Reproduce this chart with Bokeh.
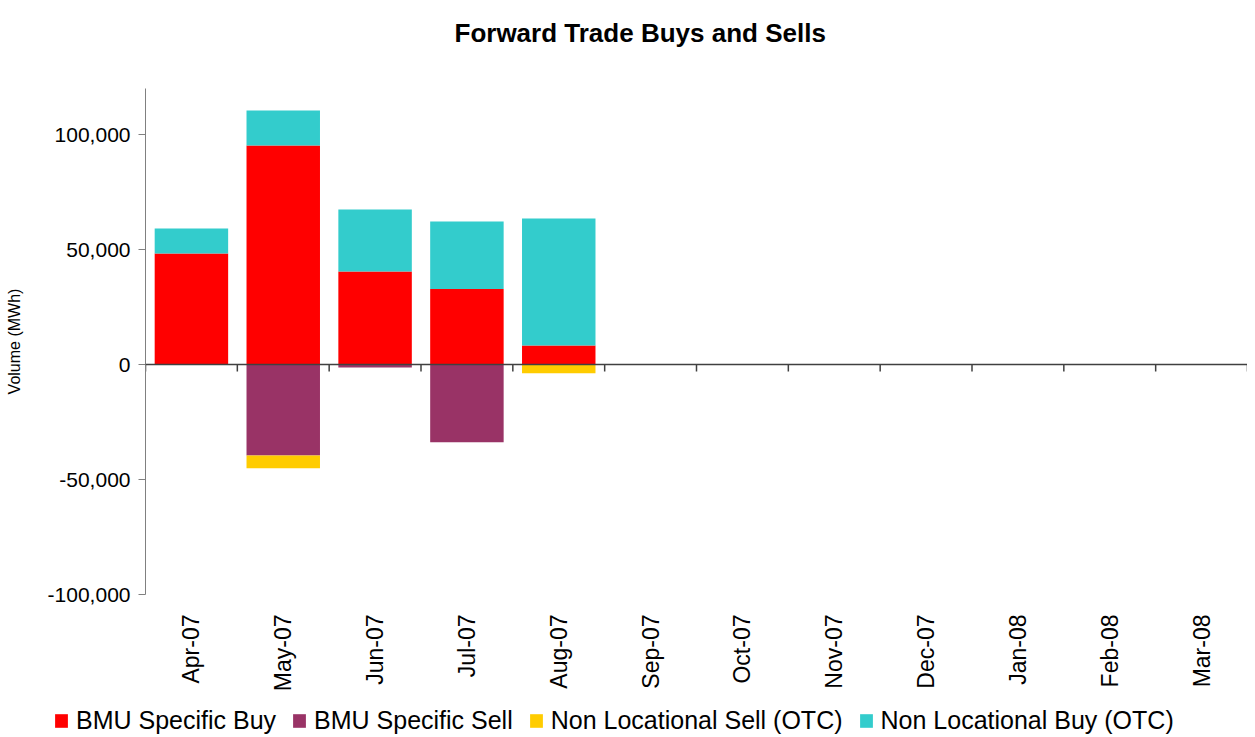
import numpy as np
from bokeh.plotting import figure
from bokeh.layouts import column
from bokeh.models import (Range1d, FixedTicker, NumeralTickFormatter,
                          Legend, LegendItem, ColumnDataSource, Title, Span)
from bokeh.embed import file_html
from bokeh.resources import INLINE

months = ["Apr-07", "May-07", "Jun-07", "Jul-07", "Aug-07", "Sep-07",
          "Oct-07", "Nov-07", "Dec-07", "Jan-08", "Feb-08", "Mar-08"]
bmu_buy = [48300, 95200, 40400, 32800, 8300, 0, 0, 0, 0, 0, 0, 0]
nl_buy = [10800, 15200, 27000, 29400, 55200, 0, 0, 0, 0, 0, 0, 0]
bmu_sell = [0, -39600, -1300, -33800, 0, 0, 0, 0, 0, 0, 0, 0]
nl_sell = [0, -5500, 0, 0, -3800, 0, 0, 0, 0, 0, 0, 0]
y_ticks = [-100000, -50000, 0, 50000, 100000]
series_labels = ["BMU Specific Buy", "BMU Specific Sell",
                 "Non Locational Sell (OTC)", "Non Locational Buy (OTC)"]

FONT = "Liberation Sans"
RED, PURPLE, YELLOW, TEAL = "#FF0000", "#993366", "#FFCC00", "#33CCCC"

xpos = list(np.arange(len(months)) + 0.5)
src = ColumnDataSource(dict(x=xpos, bmu_buy=bmu_buy, nl_buy=nl_buy,
                            bmu_sell=bmu_sell, nl_sell=nl_sell))

W = 1247
TOP, LEFT = 88, 145
FRAME_H = 506
H_MAIN = 704
H_LEG = 32
Y0, Y1 = -100000, 120000
p = figure(width=W, height=H_MAIN, output_backend="svg", toolbar_location=None,
           x_range=Range1d(0, len(months)), y_range=Range1d(Y0, Y1),
           min_border_left=LEFT, min_border_right=0, min_border_top=TOP,
           min_border_bottom=H_MAIN - TOP - FRAME_H)
p.outline_line_color = None
p.xgrid.visible = False
p.ygrid.visible = False

pos = p.vbar_stack(["bmu_buy", "nl_buy"], x="x", width=0.8, source=src,
                   color=[RED, TEAL], line_color=None)
neg = p.vbar_stack(["bmu_sell", "nl_sell"], x="x", width=0.8, source=src,
                   color=[PURPLE, YELLOW], line_color=None)

# zero line with tick marks between categories
p.add_layout(Span(location=0, dimension="width", line_color="#404040",
                  line_width=1.5))
bounds = list(range(len(months) + 1))
tick_len = 7 * (Y1 - Y0) / FRAME_H
p.segment(x0=bounds, x1=bounds, y0=[0] * len(bounds),
          y1=[-tick_len] * len(bounds), line_color="#404040", line_width=1.5)

# title (second, empty line lifts the text away from the frame)
title = Title(text="Forward Trade Buys and Sells\n ", align="left", offset=309,
              text_font=FONT, text_font_size="26px", text_font_style="bold",
              text_color="#000000")
if "standoff" in Title.properties():
    title.standoff = 22
p.title = title

# y axis
ya = p.yaxis[0]
ya.ticker = FixedTicker(ticks=y_ticks)
ya.formatter = NumeralTickFormatter(format="0,0")
ya.axis_line_color = "#808080"
ya.major_tick_line_color = "#808080"
ya.major_tick_out = 7
ya.major_tick_in = 0
ya.minor_tick_line_color = None
ya.major_label_text_font = FONT
ya.major_label_text_font_size = "21px"
ya.major_label_text_color = "#000000"
ya.major_label_standoff = 8
ya.axis_label = "Volume (MWh)"
ya.axis_label_text_font = FONT
ya.axis_label_text_font_size = "16px"
ya.axis_label_text_font_style = "normal"
ya.axis_label_text_color = "#000000"
ya.axis_label_standoff = 22

# x axis (labels only)
xa = p.xaxis[0]
xa.ticker = FixedTicker(ticks=xpos)
xa.major_label_overrides = {float(x): m for x, m in zip(xpos, months)}
xa.major_label_orientation = np.pi / 2
xa.axis_line_color = None
xa.major_tick_line_color = None
xa.minor_tick_line_color = None
xa.major_label_text_font = FONT
xa.major_label_text_font_size = "23px"
xa.major_label_text_color = "#000000"
xa.major_label_standoff = 14

# legend strip beneath the chart (its bars fall outside its visible range)
lp = figure(width=W, height=H_LEG, output_backend="svg", toolbar_location=None,
            x_range=Range1d(0, len(months)), y_range=Range1d(1e7, 2e7),
            x_axis_type=None, y_axis_type=None,
            min_border_left=0, min_border_right=0, min_border_top=0,
            min_border_bottom=0)
lp.outline_line_color = None
lp.xgrid.visible = False
lp.ygrid.visible = False
if "frame_align" in lp.properties():
    lp.frame_align = False
    p.frame_align = False
lpos = lp.vbar_stack(["bmu_buy", "nl_buy"], x="x", width=0.8, source=src,
                     color=[RED, TEAL], line_color=None)
lneg = lp.vbar_stack(["bmu_sell", "nl_sell"], x="x", width=0.8, source=src,
                     color=[PURPLE, YELLOW], line_color=None)
legend = Legend(items=[
    LegendItem(label=series_labels[0], renderers=[lpos[0]]),
    LegendItem(label=series_labels[1], renderers=[lneg[0]]),
    LegendItem(label=series_labels[2], renderers=[lneg[1]]),
    LegendItem(label=series_labels[3], renderers=[lpos[1]]),
], orientation="horizontal", location=(53, 1),
    label_text_font=FONT, label_text_font_size="25px", label_text_color="#000000",
    glyph_width=16, glyph_height=17, label_standoff=7, spacing=15,
    padding=0, margin=0, border_line_color=None, background_fill_alpha=0)
lp.add_layout(legend, "center")

open("out.html", "w").write(file_html(column(p, lp), INLINE))
